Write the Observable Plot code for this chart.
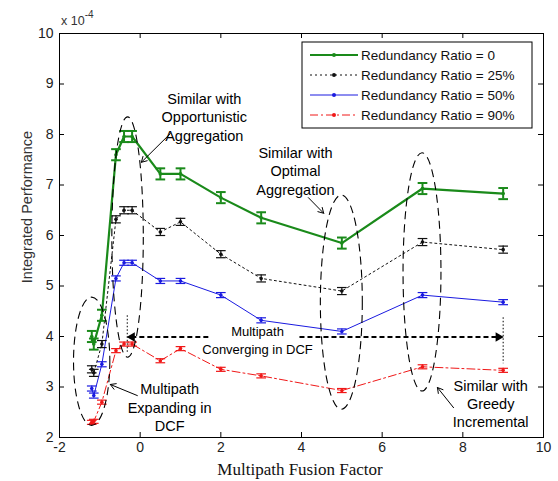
<!DOCTYPE html>
<html><head><meta charset="utf-8">
<script src="https://cdn.jsdelivr.net/npm/d3@7"></script>
<script src="https://cdn.jsdelivr.net/npm/@observablehq/plot@0.6"></script>
<style>
body{margin:0;background:#fff;}
#chart{width:558px;height:481px;}
svg{font-family:"Liberation Sans",Arial,sans-serif;}
</style></head><body><div id="chart"></div>
<script>
// ---- data (values x 10^-4) ----
const xs      = [-1.2, -1.15, -0.95, -0.6, -0.4, -0.2, 0.5, 1, 2, 3, 5, 7, 9];
const ratio0  = [4.0, 3.85, 4.42, 7.6, 7.96, 7.96, 7.22, 7.22, 6.75, 6.35, 5.85, 6.93, 6.83];
const ratio25 = [3.35, 3.28, 3.85, 6.32, 6.5, 6.5, 6.07, 6.27, 5.63, 5.15, 4.9, 5.87, 5.72];
const ratio50 = [2.97, 2.83, 3.45, 5.15, 5.46, 5.46, 5.1, 5.1, 4.82, 4.32, 4.1, 4.82, 4.68];
const ratio90 = [2.3, 2.32, 2.7, 3.72, 3.85, 3.85, 3.52, 3.76, 3.35, 3.22, 2.93, 3.4, 3.33];
const seriesNames  = ["Redundancy Ratio = 0", "Redundancy Ratio = 25%", "Redundancy Ratio = 50%", "Redundancy Ratio = 90%"];
const seriesValues = [ratio0, ratio25, ratio50, ratio90];
const seriesErr    = [0.11, 0.07, 0.05, 0.04];
const seriesColors = ["#1a8a1a", "#111111", "#1a1ae0", "#f01818"];
const seriesDash   = ["none", "2,3", "none", "8,3,2,3"];
const seriesWidth  = [2.2, 1, 1, 1];
const xTicks = [-2, 0, 2, 4, 6, 8, 10];
const yTicks = [2, 3, 4, 5, 6, 7, 8, 9, 10];

// annotations (data units)
const ellipses = [
  {cx: -1.19, cy: 3.5, rx: 0.45, ry: 1.27},
  {cx: -0.30, cy: 5.96, rx: 0.39, ry: 2.38},
  {cx: 5.0, cy: 4.67, rx: 0.52, ry: 2.12},
  {cx: 7.0, cy: 5.27, rx: 0.47, ry: 2.36}
];
const arrows = [
  {x1: 0.75, y1: 8.02, x2: 0.03, y2: 7.45},
  {x1: 4.17, y1: 6.75, x2: 4.55, y2: 6.44},
  {x1: -0.07, y1: 2.83, x2: -0.74, y2: 3.05},
  {x1: 7.77, y1: 2.59, x2: 7.37, y2: 2.99}
];
const notes = [
  {x: 1.59, y: 8.36, text: "Similar with\nOpportunistic\nAggregation"},
  {x: 3.85, y: 7.29, text: "Similar with\nOptimal\nAggregation"},
  {x: 0.73, y: 2.61, text: "Multipath\nExpanding in\nDCF"},
  {x: 8.69, y: 2.68, text: "Similar with\nGreedy\nIncremental"}
];
const convergeNote = [{x: 2.91, y: 3.95, text: "Multipath\nConverging in DCF"}];
const dashSegs = [{x1: 1.69, x2: -0.15, y: 3.99}, {x1: 3.95, x2: 8.83, y: 3.99}];
const dashHeads = [{x: -0.2, y: 3.99, rotate: -90}, {x: 8.88, y: 3.99, rotate: 90}];
const dotVerts = [{x: -0.32, y1: 4.42, y2: 3.66}, {x: 9.0, y1: 4.38, y2: 3.47}];

// ---- table ----
const rows = [];
seriesNames.forEach((name, s) => xs.forEach((x, i) => rows.push({series: s, name, x, y: seriesValues[s][i], e: seriesErr[s]})));

const W = 558, H = 481, mL = 59, mR = 15, mT = 33, mB = 44;
const fw = W - mL - mR, fh = H - mT - mB;
const capHalf = 0.12;

const marks = [
  Plot.frame({stroke: "#000", strokeWidth: 1}),
  Plot.axisX({ticks: xTicks, tickSize: 0, tickPadding: 5, label: null, fill: "#222", tickFormat: d => String(d)}),
  Plot.axisY({ticks: yTicks, tickSize: 0, tickPadding: 6, label: null, fill: "#222", tickFormat: d => String(d)}),
  Plot.ruleX(xTicks.slice(1, -1), {insetTop: fh - 5, stroke: "#000"}),
  Plot.ruleX(xTicks.slice(1, -1), {insetBottom: fh - 5, stroke: "#000"}),
  Plot.ruleY(yTicks.slice(1, -1), {insetRight: fw - 5, stroke: "#000"}),
  Plot.ruleY(yTicks.slice(1, -1), {insetLeft: fw - 5, stroke: "#000"})
];
[3, 2, 1, 0].forEach(s => {
  const d = rows.filter(r => r.series === s);
  const c = seriesColors[s];
  const ew = s === 0 ? 2 : 1.2;
  marks.push(
    Plot.line(d, {x: "x", y: "y", stroke: c, strokeWidth: seriesWidth[s], strokeDasharray: seriesDash[s]}),
    Plot.ruleX(d, {x: "x", y1: r => r.y - r.e, y2: r => r.y + r.e, stroke: c, strokeWidth: ew}),
    Plot.link(d, {x1: r => r.x - capHalf, x2: r => r.x + capHalf, y1: r => r.y + r.e, y2: r => r.y + r.e, stroke: c, strokeWidth: ew}),
    Plot.link(d, {x1: r => r.x - capHalf, x2: r => r.x + capHalf, y1: r => r.y - r.e, y2: r => r.y - r.e, stroke: c, strokeWidth: ew}),
    Plot.dot(d, {x: "x", y: "y", r: 1.8, fill: c})
  );
});
marks.push(
  Plot.arrow(arrows, {x1: "x1", y1: "y1", x2: "x2", y2: "y2", stroke: "#000", strokeWidth: 1, headLength: 9}),
  Plot.link(dashSegs, {x1: "x1", x2: "x2", y1: "y", y2: "y", stroke: "#000", strokeWidth: 2, strokeDasharray: "5,3"}),
  Plot.dot(dashHeads, {x: "x", y: "y", rotate: "rotate", symbol: "triangle2", r: 4.5, fill: "#000"}),
  Plot.link(dotVerts, {x1: "x", x2: "x", y1: "y1", y2: "y2", stroke: "#000", strokeWidth: 1, strokeDasharray: "1.5,2"}),
  Plot.text(notes, {x: "x", y: "y", text: "text", fontSize: 14.5, lineHeight: 1.27, fill: "#000", lineAnchor: "middle"}),
  Plot.text(convergeNote, {x: "x", y: "y", text: "text", fontSize: 13, lineHeight: 1.45, fill: "#000", lineAnchor: "middle"})
);

const plot = Plot.plot({
  width: W, height: H, marginLeft: mL, marginRight: mR, marginTop: mT, marginBottom: mB,
  x: {domain: [-2, 10]}, y: {domain: [2, 10]},
  style: {fontFamily: '"Liberation Sans", Arial, sans-serif', fontSize: "14px", background: "#fff", overflow: "visible"},
  marks
});
document.getElementById("chart").appendChild(plot);

const svg = d3.select(plot);
const sx = plot.scale("x"), sy = plot.scale("y");
const X = v => sx.apply(v), Y = v => sy.apply(v);

// ellipses
const eg = svg.append("g");
ellipses.forEach(e => {
  eg.append("ellipse")
    .attr("cx", X(e.cx)).attr("cy", Y(e.cy))
    .attr("rx", X(e.cx + e.rx) - X(e.cx)).attr("ry", Y(e.cy - e.ry) - Y(e.cy))
    .attr("fill", "none").attr("stroke", "#000").attr("stroke-width", 1.1).attr("stroke-dasharray", "8,5");
});

// legend
const lg = svg.append("g").attr("text-anchor", "start");
lg.append("rect").attr("x", 302).attr("y", 42).attr("width", 230).attr("height", 86)
  .attr("fill", "#fff").attr("stroke", "#000").attr("stroke-width", 1);
seriesNames.forEach((name, s) => {
  const yy = 55 + s * 20;
  lg.append("line").attr("x1", 310).attr("x2", 358).attr("y1", yy).attr("y2", yy)
    .attr("stroke", seriesColors[s]).attr("stroke-width", seriesWidth[s])
    .attr("stroke-dasharray", seriesDash[s]);
  lg.append("circle").attr("cx", 334).attr("cy", yy).attr("r", 2).attr("fill", seriesColors[s]);
  lg.append("text").attr("x", 361).attr("y", yy + 5).attr("text-anchor", "start")
    .attr("font-size", 13.5).attr("fill", "#111").text(name);
});

// axis labels
svg.append("text").attr("transform", "translate(32,207) rotate(-90)").attr("text-anchor", "middle")
  .attr("font-size", 14.5).attr("fill", "#333").text("Integrated Performance");
svg.append("text").attr("x", 300).attr("y", 475).attr("text-anchor", "middle")
  .attr("font-family", '"Liberation Serif", "Times New Roman", serif').attr("font-size", 17).attr("fill", "#111")
  .text("Multipath Fusion Factor");
const ex = svg.append("text").attr("x", 61).attr("y", 25).attr("text-anchor", "start")
  .attr("font-size", 12.5).attr("fill", "#333");
ex.append("tspan").text("x 10");
ex.append("tspan").attr("dy", -7).attr("font-size", 10).text("-4");
</script></body></html>
